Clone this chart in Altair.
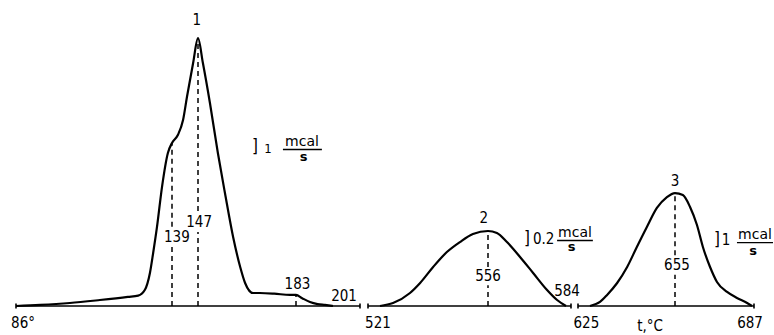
import altair as alt
import pandas as pd

# ---- curve 1 (peak 1, 86..201 °C) : temperature, deflection (scale-bar units)
C1_T = [86, 94.2, 104.3, 114.5, 124.0, 127.5, 129.8, 131.5, 132.6, 133.9, 135.6, 137.6, 139.0,
        140.8, 142.4, 143.6, 145.5, 147.0, 148.8, 151.4, 154.3, 156.9, 159.9, 162.5, 164.3,
        167.2, 169.7, 175.0, 180.8, 183.0, 186.0, 189.8, 193.5, 197.1, 201.0]
C1_V = [0, 0.08, 0.23, 0.46, 0.70, 0.80, 1.25, 2.54, 4.08, 6.08, 9.15, 11.77, 12.54,
        13.15, 14.3, 16.08, 18.69, 20.6, 18.69, 15.6, 11.77, 8.69, 5.31, 3.0, 1.77,
        1.0, 1.0, 0.95, 0.85, 0.85, 0.6, 0.31, 0.15, 0.08, 0]
# ---- curve 2 (peak 2, 521..584 °C)
C2_T = [524.5, 528.3, 533.25, 536.2, 540.0, 544.0, 547.8, 551.6, 556.0, 559.2, 562.8,
        567.5, 572.2, 577.2, 580.8, 584.0]
C2_V = [0, 0.23, 1.0, 1.77, 3.0, 4.15, 4.92, 5.54, 5.77, 5.62, 4.92, 3.77, 2.54, 1.23, 0.46, 0]
# ---- curve 3 (peak 3, 625..687 °C)
C3_T = [628.7, 631.8, 634.0, 637.1, 640.2, 643.2, 646.3, 649.4, 652.5, 655.0, 658.2, 661.1,
        663.9, 666.3, 669.2, 672.0, 676.1, 680.1, 684.2, 686.2]
C3_V = [0, 0.31, 0.85, 1.77, 3.0, 4.54, 6.08, 7.54, 8.38, 8.69, 8.54, 7.62, 6.23, 4.54,
        3.0, 1.85, 1.08, 0.62, 0.23, 0]

# ---- axis segments (start, end temperature)
SEG_START = [86, 521, 625]
SEG_END = [214, 586, 687]

# ---- dashed marker lines: temperature, from, to (split around labels)
DASH_T = [139, 139, 147, 147, 183, 556, 556, 655, 655]
DASH_V0 = [0, 6.1, 0, 7.3, 0, 0, 3.0, 0, 3.9]
DASH_V1 = [4.6, 12.54, 5.7, 20.6, 0.85, 1.6, 5.77, 2.4, 8.69]

# ---- labels
LAB_TEXT = ["1", "2", "3", "139", "147", "183", "201", "556", "584", "655",
            "86°", "521", "625", "687", "t,°C", "0.2", "1"]
LAB_T = [146.6, 554.8, 655.0, 140.5, 147.4, 183.7, 206.3, 556.0, 584.4, 655.8,
         88.4, 523.9, 627.6, 685.4, 647.3, 576.0, 675.7]
LAB_V = [22.0, 6.77, 9.6, 5.3, 6.46, 1.7, 0.77, 2.3, 1.15, 3.15,
         -1.27, -1.27, -1.27, -1.27, -1.55, 5.12, 5.08]

# scale bars: bracket, small "1", "mcal" / "s" fraction
BR_T = [167.9, 570.0, 672.0]
BR_V = [12.2, 5.12, 5.08]
SMALL1_T = [172.7]
SMALL1_V = [12.1]
MCAL_T = [185.9, 608.3, 687.4]
MCAL_V = [12.28, 5.28, 5.12]
S_T = [186.7, 588.8, 686.6]
S_V = [11.12, 4.2, 3.96]
UL_T0 = [178.2, 580.8, 680.1]
UL_T1 = [195.6, 629.6, 694.7]
UL_V = [12.04, 5.04, 4.88]

# ---- piecewise temperature axis (broken axis as drawn)
X_DOMAIN = [86, 139, 147, 183, 201, 214, 521, 556, 584, 586, 625, 655, 687]
X_RANGE = [16, 172, 198, 296, 333, 360, 368, 488, 566, 571, 578, 675, 754]

xs = alt.Scale(domain=X_DOMAIN, range=X_RANGE, zero=False, nice=False)
ys = alt.Scale(domain=[-29 / 13, 306 / 13], zero=False, nice=False)

curves = pd.DataFrame({
    "t": C1_T + C2_T + C3_T,
    "v": C1_V + C2_V + C3_V,
    "peak": ["1"] * len(C1_T) + ["2"] * len(C2_T) + ["3"] * len(C3_T),
    "i": list(range(len(C1_T))) + list(range(len(C2_T))) + list(range(len(C3_T))),
})
segs = pd.DataFrame({"t0": SEG_START, "t1": SEG_END, "v": [0] * 3})
ends = pd.DataFrame({"t": SEG_START + SEG_END, "lo": [-0.2] * 6, "hi": [0.2] * 6})
dash = pd.DataFrame({"t": DASH_T, "v0": DASH_V0, "v1": DASH_V1})
labs = pd.DataFrame({"t": LAB_T, "v": LAB_V, "text": LAB_TEXT})
brk = pd.DataFrame({"t": BR_T, "v": BR_V, "text": ["]"] * 3})
sm1 = pd.DataFrame({"t": SMALL1_T, "v": SMALL1_V, "text": ["1"]})
mcal = pd.DataFrame({"t": MCAL_T, "v": MCAL_V, "text": ["mcal"] * 3})
sden = pd.DataFrame({"t": S_T, "v": S_V, "text": ["s"] * 3})
ul = pd.DataFrame({"t0": UL_T0, "t1": UL_T1, "v": UL_V})

FONT = "Liberation Sans Narrow, DejaVu Sans Condensed, Roboto Condensed, Roboto, sans-serif"
FONT2 = "DejaVu Sans, Noto Sans, sans-serif"

line = alt.Chart(curves).mark_line(color="black", strokeWidth=2.2, interpolate="monotone").encode(
    x=alt.X("t:Q", scale=xs, axis=None),
    y=alt.Y("v:Q", scale=ys, axis=None),
    detail="peak:N",
    order="i:Q",
)
axis_line = alt.Chart(segs).mark_rule(color="black", strokeWidth=1.6).encode(
    x=alt.X("t0:Q", scale=xs, axis=None), x2="t1:Q",
    y=alt.Y("v:Q", scale=ys, axis=None),
)
end_ticks = alt.Chart(ends).mark_rule(color="black", strokeWidth=1.6).encode(
    x=alt.X("t:Q", scale=xs, axis=None),
    y=alt.Y("lo:Q", scale=ys, axis=None), y2="hi:Q",
)
dashes = alt.Chart(dash).mark_rule(color="black", strokeWidth=1.5, strokeDash=[5, 4]).encode(
    x=alt.X("t:Q", scale=xs, axis=None),
    y=alt.Y("v0:Q", scale=ys, axis=None), y2="v1:Q",
)
labels = alt.Chart(labs).mark_text(font=FONT, fontSize=15, color="black",
                                   align="center", baseline="middle").encode(
    x=alt.X("t:Q", scale=xs, axis=None),
    y=alt.Y("v:Q", scale=ys, axis=None),
    text="text:N",
)
brackets = alt.Chart(brk).mark_text(font=FONT, fontSize=17, color="black",
                                    align="center", baseline="middle").encode(
    x=alt.X("t:Q", scale=xs, axis=None),
    y=alt.Y("v:Q", scale=ys, axis=None),
    text="text:N",
)
small1 = alt.Chart(sm1).mark_text(font=FONT, fontSize=13, color="black",
                                  align="center", baseline="middle").encode(
    x=alt.X("t:Q", scale=xs, axis=None),
    y=alt.Y("v:Q", scale=ys, axis=None),
    text="text:N",
)
mcal_t = alt.Chart(mcal).mark_text(font=FONT2, fontSize=14, color="black",
                                   align="center", baseline="alphabetic").encode(
    x=alt.X("t:Q", scale=xs, axis=None),
    y=alt.Y("v:Q", scale=ys, axis=None),
    text="text:N",
)
s_t = alt.Chart(sden).mark_text(font=FONT2, fontSize=13, fontWeight="bold", color="black",
                                align="center", baseline="alphabetic").encode(
    x=alt.X("t:Q", scale=xs, axis=None),
    y=alt.Y("v:Q", scale=ys, axis=None),
    text="text:N",
)
underline = alt.Chart(ul).mark_rule(color="black", strokeWidth=1.3).encode(
    x=alt.X("t0:Q", scale=xs, axis=None), x2="t1:Q",
    y=alt.Y("v:Q", scale=ys, axis=None),
)

chart = alt.layer(
    axis_line, end_ticks, dashes, line, labels, brackets, small1, mcal_t, s_t, underline
).properties(
    width=774, height=335,
    autosize=alt.AutoSizeParams(type="none"),
    padding=0,
    background="white",
).configure_view(stroke=None)

chart.save("out.html", embed_options={"renderer": "svg", "actions": False})
